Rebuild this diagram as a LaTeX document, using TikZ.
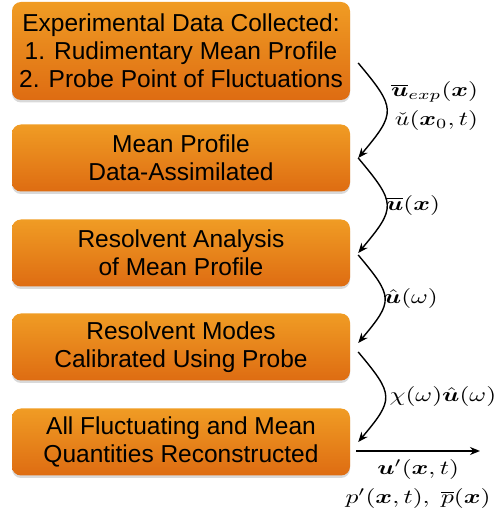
\documentclass[tikz,border=0pt]{standalone}
\usepackage{amsmath, amssymb, bm}
\usepackage{fontspec}
\setmainfont{Liberation Sans}
\usetikzlibrary{arrows.meta, shadows, positioning}
\definecolor{boxtop}{RGB}{240,156,36}
\definecolor{boxbot}{RGB}{222,108,18}
\tikzset{stage/.style={rounded corners=9pt, top color=boxtop, bottom color=boxbot,
    drop shadow={opacity=0.3, shadow xshift=0pt, shadow yshift=-2.5pt},
    minimum width=338pt, minimum height=67pt, align=center, inner sep=0pt,
    font=\fontsize{24.5}{28}\selectfont},
  flow/.style={line width=1.4pt, -{Stealth[length=10pt, width=8pt]}},
  lbl/.style={xscale=2.55, yscale=2.0, inner sep=0pt}}

\begin{document}
\begin{tikzpicture}[x=1pt, y=1pt]
\useasboundingbox (0,0) rectangle (499,515);
%% the five stages
  \node[stage, minimum height=98pt] (data) at (181,464) {Experimental Data Collected:\\ 1. Rudimentary Mean Profile\\ 2. Probe Point of Fluctuations};
  \node[stage] (mean) at (181,357) {Mean Profile\\ Data-Assimilated};
  \node[stage] (resolv) at (181,262) {Resolvent Analysis\\ of Mean Profile};
  \node[stage] (modes) at (181,168) {Resolvent Modes\\ Calibrated Using Probe};
  \node[stage] (recon) at (181,73) {All Fluctuating and Mean\\ Quantities Reconstructed};
%% curved arrows between stages
  \draw[flow] ([xshift=8pt, yshift=-12pt]data.east) to[out=-50, in=50, looseness=1.6]
    node[lbl, right, xshift=1pt, yshift=2pt, align=right] {$\overline{\bm u}_{exp}(\bm x)$\\[2.5pt] $\check{u}(\bm x_0,t)$} ([xshift=8pt]mean.east);
  \draw[flow] ([xshift=8pt]mean.east) to[out=-50, in=50, looseness=1.6]
    node[lbl, right, xshift=-1pt] {$\overline{\bm u}(\bm x)$} ([xshift=8pt]resolv.east);
  \draw[flow] ([xshift=8pt, yshift=-2pt]resolv.east) to[out=-50, in=50, looseness=1.6]
    node[lbl, right, xshift=-1pt] {$\hat{\bm u}(\omega)$} ([xshift=8pt, yshift=4pt]modes.east);
  \draw[flow] ([xshift=8pt, yshift=-5pt]modes.east) to[out=-50, in=50, looseness=1.6]
    node[lbl, right, xshift=1pt] {$\chi(\omega)\hat{\bm u}(\omega)$} ([xshift=8pt]recon.east);
%% output arrow
  \coordinate (out) at (480,64);
  \draw[flow] ([xshift=6pt, yshift=-9pt]recon.east) -- (out)
    node[lbl, midway, below=7pt, align=center] {$\bm u'(\bm x,t)$\\[2.5pt] $p'(\bm x,t),\ \overline{p}(\bm x)$};
\end{tikzpicture}
\end{document}
